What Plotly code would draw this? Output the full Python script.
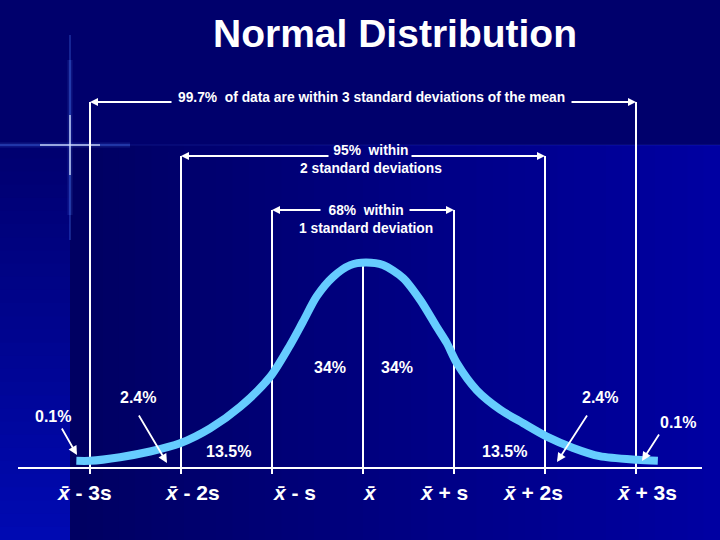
import plotly.graph_objects as go

# ---------------- data ----------------
title_text = "Normal Distribution"

# hand-drawn bell curve, x in standard deviations from the mean, y = density
curve_x = [-3.15, -3.00, -2.67, -2.34, -2.01, -1.68, -1.35, -1.02, -0.80, -0.66,
           -0.51, -0.33, -0.14, 0.03, 0.22, 0.44, 0.63, 0.81, 0.92, 1.03,
           1.25, 1.51, 1.76, 2.02, 2.31, 2.60, 3.01, 3.24]
curve_y = [0.014, 0.014, 0.021, 0.032, 0.048, 0.077, 0.119, 0.177, 0.239, 0.284,
           0.333, 0.371, 0.394, 0.399, 0.394, 0.369, 0.326, 0.274, 0.243, 0.204,
           0.151, 0.113, 0.087, 0.061, 0.039, 0.023, 0.016, 0.014]

sd_marks = [-3, -2, -1, 0, 1, 2, 3]
tick_labels = ["<i>x̄</i> - 3s", "<i>x̄</i> - 2s", "<i>x̄</i> - s", "<i>x̄</i>",
               "<i>x̄</i> + s", "<i>x̄</i> + 2s", "<i>x̄</i> + 3s"]

bracket_k = [3, 2, 1]
bracket_texts = ["99.7%  of data are within 3 standard deviations of the mean",
                 "95%  within<br>2 standard deviations",
                 "68%  within<br>1 standard deviation"]

region_labels = ["34%", "34%", "13.5%", "13.5%", "2.4%", "2.4%", "0.1%", "0.1%"]

# ---------------- layout helpers (pixel -> axis units) ----------------
PX0, PXS, PY0, PYS = 363.0, 91.0, 468.0, 515.0
W, H = 720, 540


def ux(px):
    return (px - PX0) / PXS


def uy(py):
    return (PY0 - py) / PYS


FONT = "Arial, Liberation Sans, sans-serif"
WHITE = "#ffffff"

fig = go.Figure()

# ---------------- background ----------------
shapes = []
# top band
shapes.append(dict(type="rect", xref="paper", yref="paper", x0=0, x1=1,
                   y0=1 - 145 / H, y1=1, fillcolor="rgb(0,0,108)", line_width=0,
                   layer="below"))
# body horizontal gradient
n = 40
for i in range(n):
    x0 = 70 + (W - 70) * i / n
    x1 = 70 + (W - 70) * (i + 1) / n
    t = i / (n - 1)
    b = int(98 + (162 - 98) * t)
    shapes.append(dict(type="rect", xref="paper", yref="paper", x0=x0 / W, x1=x1 / W + 0.002,
                       y0=0, y1=1 - 145 / H, fillcolor=f"rgb(0,0,{b})", line_width=0,
                       layer="below"))
# left strip vertical gradient
m = 30
for i in range(m):
    y0 = 145 + (H - 145) * i / m
    y1 = 145 + (H - 145) * (i + 1) / m
    t = i / (m - 1)
    b = int(112 + (178 - 112) * t)
    shapes.append(dict(type="rect", xref="paper", yref="paper", x0=0, x1=70 / W,
                       y0=1 - y1 / H - 0.002, y1=1 - y0 / H, fillcolor=f"rgb(0,{int(10*t)},{b})",
                       line_width=0, layer="below"))
# lens flare star
for w, op in [(6, 0.08), (3, 0.15)]:
    shapes.append(dict(type="line", xref="paper", yref="paper", x0=0, x1=130 / W,
                       y0=1 - 145 / H, y1=1 - 145 / H,
                       line=dict(color=f"rgba(90,140,255,{op})", width=w), layer="below"))
    shapes.append(dict(type="line", xref="paper", yref="paper", x0=70 / W, x1=70 / W,
                       y0=1 - 60 / H, y1=1 - 215 / H,
                       line=dict(color=f"rgba(90,140,255,{op})", width=w), layer="below"))
shapes.append(dict(type="line", xref="paper", yref="paper", x0=0, x1=130 / W,
                   y0=1 - 145 / H, y1=1 - 145 / H,
                   line=dict(color="rgba(80,130,255,0.5)", width=1.2), layer="below"))
shapes.append(dict(type="line", xref="paper", yref="paper", x0=70 / W, x1=70 / W,
                   y0=1 - 35 / H, y1=1 - 240 / H,
                   line=dict(color="rgba(80,130,255,0.45)", width=1.2), layer="below"))
shapes.append(dict(type="line", xref="paper", yref="paper", x0=40 / W, x1=100 / W,
                   y0=1 - 145 / H, y1=1 - 145 / H,
                   line=dict(color="rgba(220,230,255,0.85)", width=1.5), layer="below"))
shapes.append(dict(type="line", xref="paper", yref="paper", x0=70 / W, x1=70 / W,
                   y0=1 - 115 / H, y1=1 - 175 / H,
                   line=dict(color="rgba(220,230,255,0.85)", width=1.5), layer="below"))
shapes.append(dict(type="line", xref="paper", yref="paper", x0=130 / W, x1=1,
                   y0=1 - 145 / H, y1=1 - 145 / H,
                   line=dict(color="rgba(60,90,220,0.2)", width=1.2), layer="below"))

# ---------------- vertical sd lines ----------------
bracket_level = {3: uy(102), 2: uy(156), 1: uy(210)}
tick_bottom = uy(474)
peak = max(curve_y)
for k in sd_marks:
    top = peak if k == 0 else bracket_level[abs(k)]
    shapes.append(dict(type="line", xref="x", yref="y", x0=k, x1=k, y0=tick_bottom, y1=top,
                       line=dict(color=WHITE, width=2), layer="below"))

# axis line
shapes.append(dict(type="line", xref="x", yref="y", x0=ux(18), x1=ux(702), y0=0, y1=0,
                   line=dict(color=WHITE, width=2), layer="below"))

# ---------------- curve ----------------
fig.add_trace(go.Scatter(x=curve_x, y=curve_y, mode="lines",
                         line=dict(color="#66ccff", width=8, shape="spline", smoothing=0.8),
                         hoverinfo="skip", showlegend=False))

annotations = []

# title
annotations.append(dict(xref="paper", yref="paper", x=395 / W, y=1 - 33 / H,
                        text=title_text, showarrow=False, xanchor="center", yanchor="middle",
                        font=dict(family=FONT, size=39, color=WHITE, weight="bold")))

# bracket texts and arrows
bracket_text_pos = {3: (371, 97), 2: (371, 159), 1: (366, 219)}
bracket_gaps = {3: (173, 570), 2: (330, 410), 1: (322, 408)}
for k, txt in zip(bracket_k, bracket_texts):
    cx, cy = bracket_text_pos[k]
    annotations.append(dict(xref="x", yref="y", x=ux(cx), y=uy(cy), text=txt, showarrow=False,
                            xanchor="center", yanchor="middle",
                            font=dict(family=FONT, size=13.8, color=WHITE, weight="bold")))
    gl, gr = bracket_gaps[k]
    lvl = bracket_level[k]
    for tail, head in [(ux(gl), -k), (ux(gr), k)]:
        annotations.append(dict(xref="x", yref="y", axref="x", ayref="y",
                                x=head, y=lvl, ax=tail, ay=lvl, text="", showarrow=True,
                                arrowhead=2, arrowsize=0.8, arrowwidth=2, arrowcolor=WHITE,
                                standoff=0, startstandoff=0))

# region percentage labels
region_pos = [(330, 367), (397, 367), (228, 451), (504, 451),
              (138, 397), (600, 397), (53, 416), (678, 422)]
for lab, (px, py) in zip(region_labels, region_pos):
    annotations.append(dict(xref="x", yref="y", x=ux(px), y=uy(py), text=lab, showarrow=False,
                            xanchor="center", yanchor="middle",
                            font=dict(family=FONT, size=16, color=WHITE, weight="bold")))

# pointer arrows for tail regions
pointer_arrows = [((61, 427), (77, 455)), ((138, 414), (167, 463)),
                  ((588, 414), (557, 462)), ((660, 433), (642, 461))]
for (tx, ty), (hx, hy) in pointer_arrows:
    annotations.append(dict(xref="x", yref="y", axref="x", ayref="y",
                            x=ux(hx), y=uy(hy), ax=ux(tx), ay=uy(ty), text="", showarrow=True,
                            arrowhead=2, arrowsize=1, arrowwidth=1.8, arrowcolor=WHITE,
                            standoff=0, startstandoff=0))

# x-axis tick labels
tick_label_px = [84, 192, 294, 370, 444, 533, 647]
for lab, px in zip(tick_labels, tick_label_px):
    annotations.append(dict(xref="x", yref="y", x=ux(px), y=uy(492), text=lab, showarrow=False,
                            xanchor="center", yanchor="middle",
                            font=dict(family=FONT, size=21, color=WHITE, weight="bold")))

fig.update_layout(
    width=W, height=H,
    margin=dict(l=0, r=0, t=0, b=0),
    paper_bgcolor="rgb(0,0,108)",
    plot_bgcolor="rgba(0,0,0,0)",
    xaxis=dict(range=[ux(0), ux(W)], visible=False, fixedrange=True),
    yaxis=dict(range=[uy(H), uy(0)], visible=False, fixedrange=True),
    shapes=shapes,
    annotations=annotations,
    showlegend=False,
)

fig.write_html("out.html", config={"displayModeBar": False},
               post_script="document.body.style.margin='0';document.body.style.background='rgb(0,0,108)';")
